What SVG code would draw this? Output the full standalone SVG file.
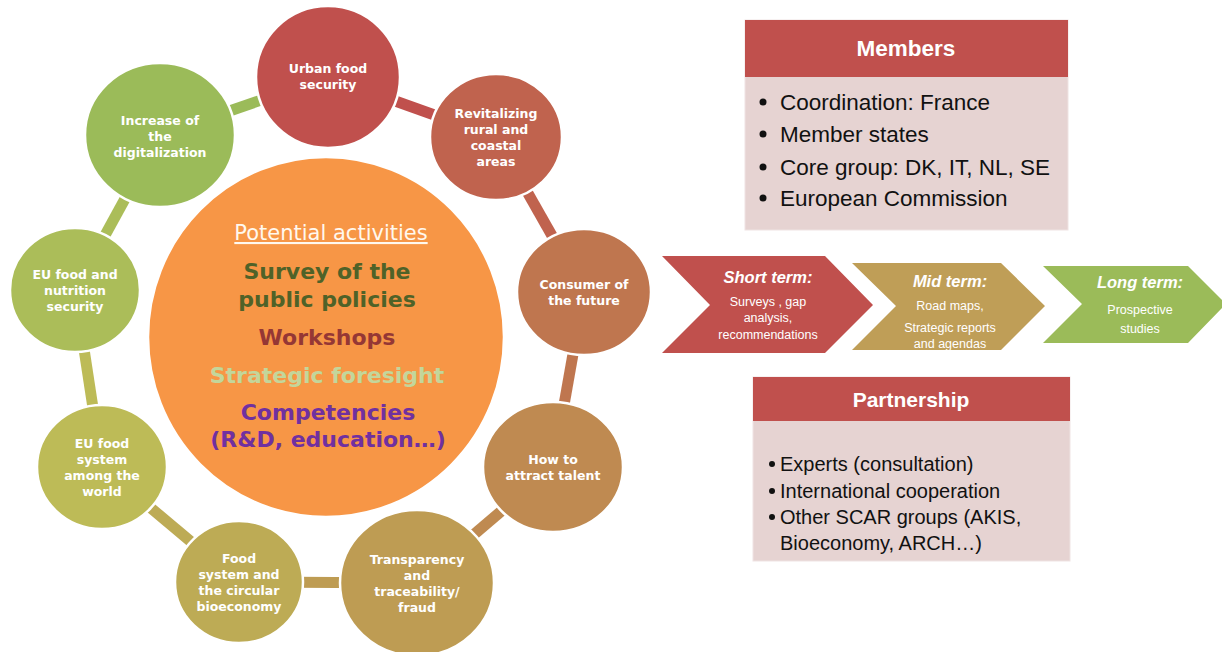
<svg xmlns="http://www.w3.org/2000/svg" width="1222" height="652" viewBox="0 0 1222 652">
<style>
.node{stroke:#fff;stroke-width:2.5}
.nl{font-family:"DejaVu Sans",sans-serif;font-weight:bold;font-size:12.5px;fill:#fff;text-anchor:middle}
.ct{font-family:"DejaVu Sans",sans-serif;font-weight:bold;font-size:22px;text-anchor:middle}
.band{stroke-width:11;fill:none}
.hdr{font-family:"Liberation Sans",Arial,sans-serif;font-weight:bold;fill:#fff;text-anchor:middle}
.item{font-family:"Liberation Sans",Arial,sans-serif;fill:#111}
.cvh{font-family:"Liberation Sans",Arial,sans-serif;font-weight:bold;font-style:italic;font-size:16.5px;fill:#fff;text-anchor:middle}
.cvt{font-family:"Liberation Sans",Arial,sans-serif;font-size:12.5px;fill:#fff;text-anchor:middle}
</style>
<rect width="1222" height="652" fill="#fff"/>
<g id="connectors">
<line class="band" x1="160" y1="135" x2="328" y2="77" stroke="#9BBB59"/>
<line class="band" x1="328" y1="77" x2="496" y2="137" stroke="#C0504D"/>
<line class="band" x1="496" y1="137" x2="584" y2="292" stroke="#C0634E"/>
<line class="band" x1="584" y1="292" x2="553" y2="467" stroke="#BF764F"/>
<line class="band" x1="553" y1="467" x2="417" y2="583" stroke="#BF8A51"/>
<line class="band" x1="417" y1="583" x2="239" y2="582" stroke="#BE9C53"/>
<line class="band" x1="239" y1="582" x2="102" y2="467" stroke="#BDAB55"/>
<line class="band" x1="102" y1="467" x2="75" y2="290" stroke="#BDBB57"/>
<line class="band" x1="75" y1="290" x2="160" y2="135" stroke="#ABBD59"/>
</g>
<g id="center">
<ellipse class="node" cx="326" cy="337" rx="178" ry="180" fill="#F79646"/>
<text x="331" y="240" font-family="DejaVu Sans,sans-serif" font-size="21" fill="#FFF8EE" text-anchor="middle" text-decoration="underline">Potential activities</text>
<text class="ct" x="327" y="279" fill="#4F6228">Survey of the</text>
<text class="ct" x="327" y="307" fill="#4F6228">public policies</text>
<text class="ct" x="327" y="345" fill="#953735">Workshops</text>
<text class="ct" x="327" y="383" fill="#C3D69B">Strategic foresight</text>
<text class="ct" x="328" y="420" fill="#7030A0">Competencies</text>
<text class="ct" x="328" y="447" fill="#7030A0">(R&amp;D, education…)</text>
</g>
<g id="n-urban">
<ellipse class="node" cx="328" cy="77" rx="72" ry="71" fill="#C0504D"/>
<text class="nl" x="328" y="73">Urban food</text>
<text class="nl" x="328" y="89">security</text>
</g>
<g id="n-revitalizing">
<ellipse class="node" cx="496" cy="137" rx="66" ry="63" fill="#C0634E"/>
<text class="nl" x="496" y="117.5">Revitalizing</text>
<text class="nl" x="496" y="133.5">rural and</text>
<text class="nl" x="496" y="149.5">coastal</text>
<text class="nl" x="496" y="165.5">areas</text>
</g>
<g id="n-consumer">
<ellipse class="node" cx="584" cy="292" rx="67" ry="63" fill="#BF764F"/>
<text class="nl" x="584" y="288.5">Consumer of</text>
<text class="nl" x="584" y="304.5">the future</text>
</g>
<g id="n-talent">
<ellipse class="node" cx="553" cy="467" rx="70" ry="65" fill="#BF8A51"/>
<text class="nl" x="553" y="463.5">How to</text>
<text class="nl" x="553" y="479.5">attract talent</text>
</g>
<g id="n-transparency">
<ellipse class="node" cx="417" cy="583" rx="77" ry="73" fill="#BE9C53"/>
<text class="nl" x="417" y="563.5">Transparency</text>
<text class="nl" x="417" y="579.5">and</text>
<text class="nl" x="417" y="595.5">traceability/</text>
<text class="nl" x="417" y="611.5">fraud</text>
</g>
<g id="n-food">
<ellipse class="node" cx="239" cy="582" rx="64" ry="61" fill="#BDAB55"/>
<text class="nl" x="239" y="562.5">Food</text>
<text class="nl" x="239" y="578.5">system and</text>
<text class="nl" x="239" y="594.5">the circular</text>
<text class="nl" x="239" y="610.5">bioeconomy</text>
</g>
<g id="n-world">
<ellipse class="node" cx="102" cy="467" rx="65" ry="62" fill="#BDBB57"/>
<text class="nl" x="102" y="447.5">EU food</text>
<text class="nl" x="102" y="463.5">system</text>
<text class="nl" x="102" y="479.5">among the</text>
<text class="nl" x="102" y="495.5">world</text>
</g>
<g id="n-nutrition">
<ellipse class="node" cx="75" cy="290" rx="65" ry="62" fill="#ABBD59"/>
<text class="nl" x="75" y="278.5">EU food and</text>
<text class="nl" x="75" y="294.5">nutrition</text>
<text class="nl" x="75" y="310.5">security</text>
</g>
<g id="n-digital">
<ellipse class="node" cx="160" cy="135" rx="75" ry="72" fill="#9BBB59"/>
<text class="nl" x="160" y="124.5">Increase of</text>
<text class="nl" x="160" y="140.5">the</text>
<text class="nl" x="160" y="156.5">digitalization</text>
</g>
<g id="members">
<rect x="745" y="20" width="323" height="210" fill="#E6D3D2" stroke="#EFE3E3" stroke-width="1"/>
<rect x="745" y="20" width="323" height="57" fill="#C0504D"/>
<text class="hdr" x="906" y="56" font-size="22.5">Members</text>
<g fill="#111">
<circle cx="763" cy="102" r="3.5"/><circle cx="763" cy="134" r="3.5"/><circle cx="763" cy="167" r="3.5"/><circle cx="763" cy="198" r="3.5"/>
</g>
<text class="item" x="780" y="110" font-size="22.5">Coordination: France</text>
<text class="item" x="780" y="142" font-size="22.5">Member states</text>
<text class="item" x="780" y="175" font-size="22.5">Core group: DK, IT, NL, SE</text>
<text class="item" x="780" y="206" font-size="22.5">European Commission</text>
</g>
<g id="partnership">
<rect x="753" y="377" width="317" height="184" fill="#E6D3D2" stroke="#EFE3E3" stroke-width="1"/>
<rect x="753" y="377" width="317" height="44" fill="#C0504D"/>
<text class="hdr" x="911" y="407" font-size="21">Partnership</text>
<g fill="#111">
<circle cx="772" cy="464" r="3"/><circle cx="772" cy="491" r="3"/><circle cx="772" cy="517" r="3"/>
</g>
<text class="item" x="780" y="471" font-size="20">Experts (consultation)</text>
<text class="item" x="780" y="498" font-size="20">International cooperation</text>
<text class="item" x="780" y="524" font-size="20">Other SCAR groups (AKIS,</text>
<text class="item" x="780" y="550" font-size="20">Bioeconomy, ARCH…)</text>
</g>
<g id="short-term">
<polygon points="662,256 825,256 873,305 825,353 662,353 710,305" fill="#C0504D"/>
<text class="cvh" x="768" y="283">Short term:</text>
<text class="cvt" x="768" y="306">Surveys , gap</text>
<text class="cvt" x="768" y="322">analysis,</text>
<text class="cvt" x="768" y="339">recommendations</text>
</g>
<g id="mid-term">
<polygon points="852,263 1001,263 1045,306 1001,350 852,350 896,306" fill="#BF9E57"/>
<text class="cvh" x="950" y="287">Mid term:</text>
<text class="cvt" x="950" y="310">Road maps,</text>
<text class="cvt" x="950" y="332">Strategic reports</text>
<text class="cvt" x="950" y="348">and agendas</text>
</g>
<g id="long-term">
<polygon points="1043,266 1188,266 1226,304 1188,343 1043,343 1082,304" fill="#9BBB59"/>
<text class="cvh" x="1140" y="288">Long term:</text>
<text class="cvt" x="1140" y="314" font-size="14.5">Prospective</text>
<text class="cvt" x="1140" y="333" font-size="14.5">studies</text>
</g>
</svg>
